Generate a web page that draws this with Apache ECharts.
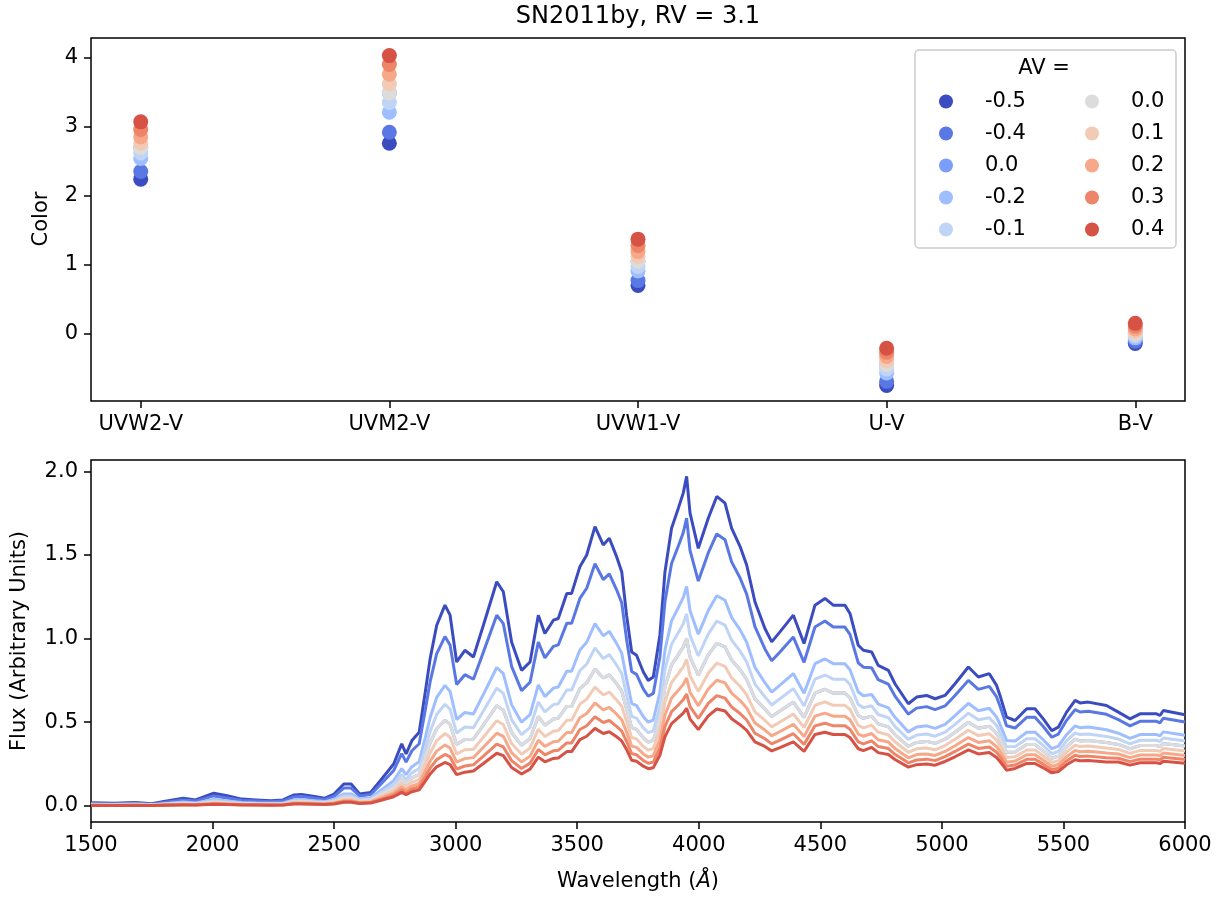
<!DOCTYPE html>
<html>
<head>
<meta charset="utf-8">
<script src="https://cdn.jsdelivr.net/npm/echarts@6/dist/echarts.min.js"></script>
<style>
html,body{margin:0;padding:0;background:#fff;}
#chart{width:1225px;height:897px;}
</style>
</head>
<body>
<div id="chart"></div>
<script>
// ---------- DATA ----------
const avLabels = ['-0.5','-0.4','0.0','-0.2','-0.1','0.0','0.1','0.2','0.3','0.4'];
const avColors = ['#3b4cc0','#5a78e4','#7b9ff9','#9ebeff','#c0d4f5','#dddcdc','#f2cbb7','#f7a889','#ee8468','#d65244'];
const bandNames = ['UVW2-V','UVM2-V','UVW1-V','U-V','B-V'];
// colour values per band, one entry per AV series (same order as avLabels)
const uvw2v = [2.24, 2.35, 2.70, 2.54, 2.62, 2.70, 2.76, 2.85, 2.96, 3.07];
const uvm2v = [2.76, 2.92, 3.49, 3.21, 3.35, 3.49, 3.62, 3.76, 3.90, 4.03];
const uvw1v = [0.70, 0.77, 1.05, 0.91, 0.975, 1.05, 1.12, 1.19, 1.28, 1.37];
const uMinusV = [-0.75, -0.69, -0.45, -0.57, -0.51, -0.45, -0.39, -0.33, -0.27, -0.21];
const bMinusV = [-0.14, -0.11, 0.0, -0.06, -0.03, 0.0, 0.03, 0.07, 0.11, 0.15];
const topYTicks = [0, 1, 2, 3, 4];
const bottomYTicks = [0, 0.5, 1.0, 1.5, 2.0];

const wavelengths = [
1500,1600,1680,1750,1800,1880,1930,2005,2060,2120,
2180,2240,2290,2335,2365,2420,2460,2500,2540,2570,
2605,2650,2690,2745,2778,2796,2820,2850,2875,2895,
2922,2956,2977,3004,3038,3073,3114,3169,3196,3230,
3271,3306,3340,3367,3402,3422,3457,3477,3511,3539,
3573,3607,3632,3662,3683,3703,3724,3744,3772,3792,
3813,3840,3861,3888,3916,3936,3950,3964,3998,4039,
4074,4108,4135,4170,4197,4231,4272,4300,4334,4389,
4433,4478,4519,4553,4581,4601,4622,4656,4677,4711,
4738,4780,4807,4862,4896,4937,4972,5013,5054,5109,
5150,5195,5225,5239,5266,5301,5349,5383,5417,5452,
5479,5513,5548,5568,5602,5677,5726,5774,5815,5883,
5897,5911,6000];

const fluxAVm05 = [
.018,.015,.020,.012,.025,.045,.035,.075,.060,.040,
.035,.030,.035,.065,.068,.055,.045,.070,.130,.130,
.070,.080,.150,.250,.370,.310,.390,.440,.680,.880,
1.080,1.200,1.140,.860,.930,.890,1.080,1.340,1.280,.980,
.810,.860,1.140,1.030,1.110,1.120,1.270,1.270,1.430,1.500,
1.670,1.560,1.600,1.490,1.400,1.140,.920,.900,.800,.750,
.770,1.020,1.400,1.660,1.780,1.870,1.970,1.750,1.540,1.720,
1.850,1.810,1.660,1.550,1.440,1.220,1.060,.980,1.040,1.140,
.970,1.200,1.240,1.200,1.200,1.200,1.150,.960,.930,.920,
.840,.810,.730,.610,.650,.660,.640,.660,.730,.830,
.770,.790,.720,.660,.530,.510,.580,.580,.520,.450,
.470,.560,.630,.615,.620,.600,.560,.520,.550,.550,
.540,.570,.545];

const fluxAVm04 = [
.014,.012,.016,.009,.020,.035,.028,.059,.047,.031,
.028,.024,.028,.053,.056,.045,.037,.057,.106,.106,
.059,.067,.126,.211,.312,.261,.329,.371,.573,.742,
.910,1.012,.961,.725,.784,.757,.919,1.140,1.089,.834,
.689,.739,.979,.885,.953,.962,1.091,1.091,1.240,1.301,
1.448,1.353,1.387,1.292,1.214,.995,.803,.786,.698,.655,
.672,.890,1.222,1.449,1.554,1.633,1.720,1.528,1.344,1.512,
1.626,1.591,1.459,1.362,1.266,1.072,.938,.867,.920,1.009,
.858,1.069,1.105,1.069,1.069,1.069,1.025,.855,.829,.826,
.754,.727,.656,.548,.584,.593,.575,.597,.660,.750,
.696,.714,.651,.597,.479,.465,.529,.529,.474,.410,
.429,.511,.575,.561,.565,.547,.515,.478,.505,.505,
.496,.524,.501];

const fluxAVm02 = [
.009,.007,.010,.006,.012,.022,.017,.037,.029,.020,
.017,.015,.017,.035,.037,.030,.025,.038,.071,.071,
.041,.047,.090,.150,.222,.186,.234,.264,.408,.528,
.648,.720,.684,.516,.558,.549,.666,.827,.790,.605,
.500,.545,.723,.653,.704,.710,.805,.805,.932,.978,
1.089,1.017,1.043,.971,.913,.759,.613,.599,.533,.500,
.513,.679,.932,1.106,1.185,1.245,1.312,1.166,1.026,1.168,
1.256,1.229,1.127,1.052,.978,.828,.736,.680,.722,.791,
.673,.850,.878,.850,.850,.850,.814,.680,.658,.666,
.608,.586,.529,.442,.471,.478,.463,.487,.539,.613,
.568,.583,.531,.487,.391,.387,.440,.440,.395,.342,
.357,.425,.478,.467,.471,.455,.434,.403,.426,.426,
.419,.442,.422];

const fluxAVm01 = [
.007,.006,.008,.005,.010,.017,.013,.029,.023,.015,
.013,.012,.013,.029,.030,.024,.020,.031,.058,.058,
.034,.039,.076,.127,.187,.157,.197,.223,.344,.445,
.546,.607,.577,.435,.471,.467,.567,.704,.672,.515,
.425,.469,.621,.561,.605,.610,.692,.692,.808,.848,
.944,.881,.904,.842,.791,.663,.535,.524,.466,.437,
.448,.594,.815,.966,1.036,1.088,1.147,1.019,.896,1.027,
1.104,1.081,.991,.925,.860,.728,.652,.603,.640,.701,
.597,.757,.782,.757,.757,.757,.726,.606,.587,.598,
.546,.527,.475,.397,.423,.429,.416,.440,.487,.554,
.514,.527,.480,.440,.354,.353,.401,.401,.360,.311,
.325,.388,.436,.426,.429,.415,.399,.370,.392,.392,
.384,.406,.388];

const fluxAV00 = [
.005,.005,.006,.004,.008,.014,.011,.023,.018,.012,
.011,.009,.011,.024,.025,.020,.016,.025,.047,.047,
.028,.033,.064,.107,.158,.132,.167,.188,.290,.376,
.461,.512,.487,.367,.397,.398,.483,.599,.572,.438,
.362,.402,.534,.482,.519,.524,.594,.594,.701,.735,
.818,.764,.784,.730,.686,.579,.467,.457,.406,.381,
.391,.518,.711,.843,.904,.950,1.001,.889,.782,.903,
.971,.950,.872,.814,.756,.641,.578,.534,.567,.621,
.529,.674,.697,.674,.674,.674,.646,.540,.523,.536,
.490,.472,.426,.356,.379,.385,.373,.398,.440,.500,
.464,.476,.434,.398,.320,.322,.366,.366,.328,.284,
.297,.353,.398,.388,.391,.379,.367,.341,.360,.360,
.354,.373,.357];

const fluxAVp01 = [
.004,.004,.005,.003,.006,.011,.008,.018,.014,.010,
.008,.007,.008,.019,.020,.016,.013,.021,.038,.038,
.024,.027,.054,.090,.133,.112,.140,.158,.245,.317,
.389,.432,.410,.310,.335,.338,.410,.509,.486,.372,
.308,.346,.458,.414,.446,.450,.511,.511,.608,.638,
.710,.663,.680,.633,.595,.506,.408,.400,.355,.333,
.342,.453,.622,.737,.790,.830,.875,.777,.684,.793,
.853,.834,.765,.715,.664,.562,.511,.472,.501,.549,
.468,.601,.621,.601,.601,.601,.576,.481,.466,.482,
.440,.424,.383,.320,.341,.346,.335,.360,.398,.452,
.420,.431,.392,.360,.289,.293,.334,.334,.299,.259,
.270,.322,.362,.354,.357,.345,.337,.313,.331,.331,
.325,.343,.328];

const fluxAVp02 = [
.003,.003,.004,.002,.005,.008,.007,.014,.011,.007,
.007,.006,.007,.016,.016,.013,.011,.017,.031,.031,
.020,.023,.045,.076,.112,.094,.118,.133,.206,.267,
.327,.364,.345,.261,.282,.288,.350,.434,.415,.318,
.262,.297,.393,.355,.383,.386,.438,.438,.526,.552,
.615,.574,.589,.548,.515,.442,.357,.349,.310,.291,
.299,.396,.543,.644,.691,.726,.764,.679,.598,.698,
.751,.735,.674,.629,.585,.495,.453,.418,.444,.487,
.414,.536,.554,.536,.536,.536,.514,.429,.416,.432,
.395,.381,.343,.287,.306,.310,.301,.325,.359,.408,
.379,.389,.354,.325,.261,.268,.305,.305,.273,.236,
.247,.294,.331,.323,.326,.315,.310,.288,.304,.304,
.299,.315,.301];

const fluxAVp03 = [
.003,.002,.003,.002,.004,.007,.005,.011,.009,.006,
.005,.004,.005,.013,.013,.011,.009,.014,.026,.026,
.017,.019,.038,.064,.095,.079,.100,.113,.174,.225,
.276,.307,.292,.220,.238,.245,.297,.369,.352,.270,
.223,.255,.337,.305,.329,.332,.376,.376,.456,.479,
.533,.498,.510,.475,.447,.386,.312,.305,.271,.254,
.261,.346,.475,.563,.603,.634,.668,.593,.522,.612,
.659,.644,.591,.552,.513,.434,.401,.370,.393,.431,
.367,.478,.494,.478,.478,.478,.458,.382,.370,.388,
.354,.342,.308,.257,.274,.279,.270,.294,.325,.369,
.343,.352,.320,.294,.236,.244,.278,.278,.249,.216,
.225,.268,.302,.295,.297,.287,.284,.264,.279,.279,
.274,.290,.277];

const fluxAVp04 = [
.002,.002,.002,.001,.003,.005,.004,.009,.007,.005,
.004,.003,.004,.010,.011,.009,.007,.011,.021,.021,
.014,.016,.032,.054,.080,.067,.084,.095,.147,.190,
.233,.259,.246,.186,.201,.208,.253,.314,.300,.229,
.190,.219,.291,.263,.283,.286,.324,.324,.396,.416,
.463,.432,.443,.413,.388,.337,.272,.266,.237,.222,
.228,.302,.414,.491,.527,.554,.583,.518,.456,.538,
.579,.567,.520,.485,.451,.382,.355,.328,.348,.382,
.325,.426,.440,.426,.426,.426,.408,.341,.330,.349,
.318,.307,.277,.231,.246,.250,.243,.265,.293,.334,
.310,.318,.289,.265,.213,.223,.253,.253,.227,.197,
.205,.245,.275,.269,.271,.262,.262,.243,.257,.257,
.252,.266,.255];

// one spectrum per AV series (order as avLabels)
const spectra = [fluxAVm05, fluxAVm04, fluxAV00, fluxAVm02, fluxAVm01, fluxAV00, fluxAVp01, fluxAVp02, fluxAVp03, fluxAVp04];
const bandValues = [uvw2v, uvm2v, uvw1v, uMinusV, bMinusV];

// ---------- CHART ----------
const FONT = '"DejaVu Sans", "Liberation Sans", sans-serif';
const FS = 21;
const chart = echarts.init(document.getElementById('chart'), null, {renderer: 'canvas'});

const series = [];
avLabels.forEach(function (lab, i) {
  series.push({
    type: 'scatter', name: 's' + i, xAxisIndex: 0, yAxisIndex: 0,
    symbol: 'circle', symbolSize: 15,
    itemStyle: {color: avColors[i], opacity: 1},
    data: bandValues.map(function (b, j) { return [j, b[i]]; }),
    z: 3 + i * 0.01
  });
});
avLabels.forEach(function (lab, i) {
  series.push({
    type: 'line', name: 'f' + i, xAxisIndex: 1, yAxisIndex: 1,
    showSymbol: false, symbol: 'none',
    lineStyle: {color: avColors[i], width: 3},
    itemStyle: {color: avColors[i]},
    data: wavelengths.map(function (w, j) { return [w, spectra[i][j]]; }),
    z: 3 + i * 0.01
  });
});

const axisCommon = {
  axisLine: {show: false, onZero: false},
  axisTick: {show: true, inside: false, length: 7, lineStyle: {color: '#000', width: 1.5}},
  axisLabel: {color: '#000', fontFamily: FONT, fontSize: FS, margin: 13},
  splitLine: {show: false}
};

const legendCommon = {
  orient: 'vertical', icon: 'circle', itemWidth: 68, itemHeight: 14, itemGap: 11,
  padding: 0, selectedMode: false,
  textStyle: {color: '#000', fontFamily: FONT, fontSize: FS, lineHeight: 21, padding: 0},
  formatter: function (name) { return avLabels[+name.slice(1)]; },
  z: 10
};

const option = {
  animation: false,
  backgroundColor: '#ffffff',
  grid: [
    {left: 91, top: 38, width: 1094, height: 363, show: true, borderColor: '#000', borderWidth: 1.5, backgroundColor: 'transparent'},
    {left: 91, top: 460, width: 1094, height: 362, show: true, borderColor: '#000', borderWidth: 1.5, backgroundColor: 'transparent'}
  ],
  xAxis: [
    Object.assign({}, axisCommon, {
      type: 'value', gridIndex: 0, position: 'bottom', min: -0.2, max: 4.2,
      axisTick: Object.assign({}, axisCommon.axisTick, {customValues: [0, 1, 2, 3, 4]}),
      axisLabel: Object.assign({}, axisCommon.axisLabel, {customValues: [0, 1, 2, 3, 4],
        formatter: function (v) { return bandNames[Math.round(v)] || ''; }})
    }),
    Object.assign({}, axisCommon, {
      type: 'value', gridIndex: 1, position: 'bottom', min: 1500, max: 6000, interval: 500,
      axisLabel: Object.assign({}, axisCommon.axisLabel, {formatter: function (v) { return String(v); }})
    })
  ],
  yAxis: [
    Object.assign({}, axisCommon, {
      type: 'value', gridIndex: 0, position: 'left', min: -0.975, max: 4.285,
      axisTick: Object.assign({}, axisCommon.axisTick, {customValues: topYTicks}),
      axisLabel: Object.assign({}, axisCommon.axisLabel, {customValues: topYTicks,
        formatter: function (v) { return String(Math.round(v)); }})
    }),
    Object.assign({}, axisCommon, {
      type: 'value', gridIndex: 1, position: 'left', min: -0.097, max: 2.068,
      axisTick: Object.assign({}, axisCommon.axisTick, {customValues: bottomYTicks}),
      axisLabel: Object.assign({}, axisCommon.axisLabel, {customValues: bottomYTicks,
        formatter: function (v) { return v.toFixed(1); }})
    })
  ],
  legend: [
    Object.assign({}, legendCommon, {left: 939, top: 91, data: ['s0', 's1', 's2', 's3', 's4']}),
    Object.assign({}, legendCommon, {left: 1085, top: 91, data: ['s5', 's6', 's7', 's8', 's9']})
  ],
  graphic: [
    {type: 'rect', z: 5, shape: {x: 915, y: 50, width: 261, height: 198, r: 4},
      style: {fill: 'rgba(255,255,255,0.8)', stroke: '#cccccc', lineWidth: 1.5}},
    {type: 'text', z: 11, x: 1044, y: 69,
      style: {text: 'AV =', fill: '#000', font: FS + 'px ' + FONT, align: 'center', verticalAlign: 'middle', textAlign: 'center', textVerticalAlign: 'middle'}},
    {type: 'text', z: 11, x: 638, y: 17,
      style: {text: 'SN2011by, RV = 3.1', fill: '#000', font: '24px ' + FONT, align: 'center', verticalAlign: 'middle', textAlign: 'center', textVerticalAlign: 'middle'}},
    {type: 'text', z: 11, x: 42, y: 219, rotation: Math.PI / 2,
      style: {text: 'Color', fill: '#000', font: FS + 'px ' + FONT, align: 'center', verticalAlign: 'middle', textAlign: 'center', textVerticalAlign: 'middle'}},
    {type: 'text', z: 11, x: 20, y: 641, rotation: Math.PI / 2,
      style: {text: 'Flux (Arbitrary Units)', fill: '#000', font: FS + 'px ' + FONT, align: 'center', verticalAlign: 'middle', textAlign: 'center', textVerticalAlign: 'middle'}},
    {type: 'text', z: 11, x: 638, y: 882,
      style: {text: '{a|Wavelength (}{b|Å}{a|)}', align: 'center', verticalAlign: 'middle', textAlign: 'center', textVerticalAlign: 'middle',
        rich: {a: {fill: '#000', color: '#000', fontFamily: FONT, fontSize: FS},
               b: {fill: '#000', color: '#000', fontFamily: FONT, fontSize: FS, fontStyle: 'italic'}}}}
  ],
  series: series
};
chart.setOption(option);
</script>
</body>
</html>
